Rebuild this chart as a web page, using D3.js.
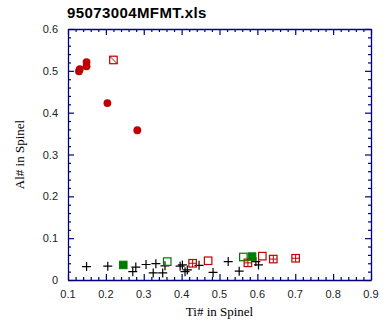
<!DOCTYPE html>
<html><head><meta charset="utf-8">
<script src="https://cdn.jsdelivr.net/npm/d3@7"></script>
<style>body{margin:0;background:#fff}svg{display:block}</style>
</head><body><svg id="c" width="388" height="323"></svg>
<script>
const title = "95073004MFMT.xls";
const xLabel = "Ti# in Spinel";
const yLabel = "Al# in Spinel";
const xTicks = [0.1,0.2,0.3,0.4,0.5,0.6,0.7,0.8,0.9];
const yTicks = [0,0.1,0.2,0.3,0.4,0.5,0.6];
// red filled circles
const redCircles = [[0.129,0.499],[0.131,0.504],[0.149,0.521],[0.149,0.511],[0.204,0.423],[0.283,0.358]];
// red square with diagonal
const redDiagSquares = [[0.220,0.526]];
// black crosses
const crosses = [[0.149,0.032],[0.205,0.033],[0.271,0.020],[0.279,0.031],[0.306,0.037],[0.332,0.039],[0.325,0.017],[0.350,0.017],[0.356,0.034],[0.396,0.033],[0.402,0.036],[0.409,0.020],[0.415,0.024],[0.446,0.035],[0.483,0.018],[0.523,0.044],[0.552,0.021],[0.596,0.044],[0.603,0.036]];
const greenFilled = [[0.246,0.036],[0.586,0.056]];
const greenOpen = [[0.362,0.044],[0.563,0.055]];
const redOpen = [[0.470,0.046],[0.613,0.057]];
const redPlusSquares = [[0.429,0.040],[0.575,0.041],[0.642,0.050],[0.701,0.052]];

const svg = d3.select("#c");
const L=68,R=371,T=29,B=280;
const x = d3.scaleLinear().domain([0.1,0.9]).range([L,R]);
const y = d3.scaleLinear().domain([0,0.6]).range([B,T]);
const axisCol = "#000080";
const RED="#c00000", GREEN="#007a00";

svg.append("text").attr("x",67).attr("y",18).attr("font-family","Liberation Sans, Arial, sans-serif")
  .attr("font-weight","bold").attr("font-size",15).attr("letter-spacing",0.4).attr("fill","#000").text(title);

const g = svg.append("g");
const minorX = d3.range(0.1,0.9001,0.02), minorY = d3.range(0,0.6001,0.02);
function isMajor(v){return Math.abs(v*10-Math.round(v*10))<1e-6;}
const fmt = d=>d===0?"0":d3.format(".1f")(d);
function styleAxis(sel){sel.selectAll("path").attr("stroke",axisCol).attr("stroke-width",1.3);
  sel.selectAll("line").attr("stroke",axisCol).attr("stroke-width",1.2);}
const bx = g.append("g").attr("transform",`translate(0,${B})`).call(d3.axisBottom(x).tickValues(minorX).tickSizeInner(-3).tickSizeOuter(0).tickFormat(""));
bx.selectAll(".tick line").filter(d=>isMajor(d)).attr("y2",-6);
const tx = g.append("g").attr("transform",`translate(0,${T})`).call(d3.axisTop(x).tickValues(minorX).tickSizeInner(-3).tickSizeOuter(0).tickFormat(""));
tx.selectAll(".tick line").filter(d=>isMajor(d)).attr("y2",6);
const ly = g.append("g").attr("transform",`translate(${L},0)`).call(d3.axisLeft(y).tickValues(minorY).tickSizeInner(-3).tickSizeOuter(0).tickFormat(""));
ly.selectAll(".tick line").filter(d=>isMajor(d)).attr("x2",6);
const ry = g.append("g").attr("transform",`translate(${R},0)`).call(d3.axisRight(y).tickValues(minorY).tickSizeInner(-3).tickSizeOuter(0).tickFormat(""));
ry.selectAll(".tick line").filter(d=>isMajor(d)).attr("x2",-6);
[bx,tx,ly,ry].forEach(styleAxis);

const lf = "Liberation Sans, Arial, sans-serif";
g.selectAll(".xl").data(xTicks).enter().append("text").attr("x",d=>x(d)).attr("y",298)
  .attr("text-anchor","middle").attr("font-family",lf).attr("font-size",11).attr("fill","#222").text(fmt);
g.selectAll(".yl").data(yTicks).enter().append("text").attr("x",58).attr("y",d=>y(d)+4)
  .attr("text-anchor","end").attr("font-family",lf).attr("font-size",11).attr("fill","#222").text(fmt);

const sf = "Liberation Serif, Times New Roman, serif";
svg.append("text").attr("x",(L+R)/2).attr("y",316).attr("text-anchor","middle").attr("font-family",sf).attr("font-size",13).text(xLabel);
svg.append("text").attr("transform",`translate(24,${(T+B)/2}) rotate(-90)`).attr("text-anchor","middle").attr("font-family",sf).attr("font-size",13).text(yLabel);

const m = svg.append("g");
m.selectAll(".cr").data(crosses).enter().append("path")
  .attr("d",d=>`M${x(d[0])-4.5},${y(d[1])}h9M${x(d[0])},${y(d[1])-4.5}v9`).attr("stroke","#000").attr("stroke-width",1.2).attr("fill","none");
const s=7.5;
m.selectAll(".go").data(greenOpen).enter().append("rect").attr("x",d=>x(d[0])-s/2).attr("y",d=>y(d[1])-s/2).attr("width",s).attr("height",s).attr("fill","none").attr("stroke",GREEN).attr("stroke-width",1.2);
m.selectAll(".ro").data(redOpen).enter().append("rect").attr("x",d=>x(d[0])-s/2).attr("y",d=>y(d[1])-s/2).attr("width",s).attr("height",s).attr("fill","none").attr("stroke",RED).attr("stroke-width",1.2);
const rp = m.selectAll(".rp").data(redPlusSquares).enter().append("g");
rp.append("rect").attr("x",d=>x(d[0])-s/2).attr("y",d=>y(d[1])-s/2).attr("width",s).attr("height",s).attr("fill","none").attr("stroke",RED).attr("stroke-width",1.2);
rp.append("path").attr("d",d=>`M${x(d[0])-s/2},${y(d[1])}h${s}M${x(d[0])},${y(d[1])-s/2}v${s}`).attr("stroke",RED).attr("stroke-width",1);
m.selectAll(".gf").data(greenFilled).enter().append("rect").attr("x",d=>x(d[0])-s/2).attr("y",d=>y(d[1])-s/2).attr("width",s).attr("height",s).attr("fill",GREEN).attr("stroke",GREEN);
const rd = m.selectAll(".rd").data(redDiagSquares).enter().append("g");
rd.append("rect").attr("x",d=>x(d[0])-s/2).attr("y",d=>y(d[1])-s/2).attr("width",s).attr("height",s).attr("fill","none").attr("stroke",RED).attr("stroke-width",1.2);
rd.append("path").attr("d",d=>`M${x(d[0])-s/2},${y(d[1])-s/2}L${x(d[0])+s/2},${y(d[1])+s/2}`).attr("stroke",RED).attr("stroke-width",1);
m.selectAll(".rc").data(redCircles).enter().append("circle").attr("cx",d=>x(d[0])).attr("cy",d=>y(d[1])).attr("r",3.9).attr("fill",RED);
</script></body></html>
